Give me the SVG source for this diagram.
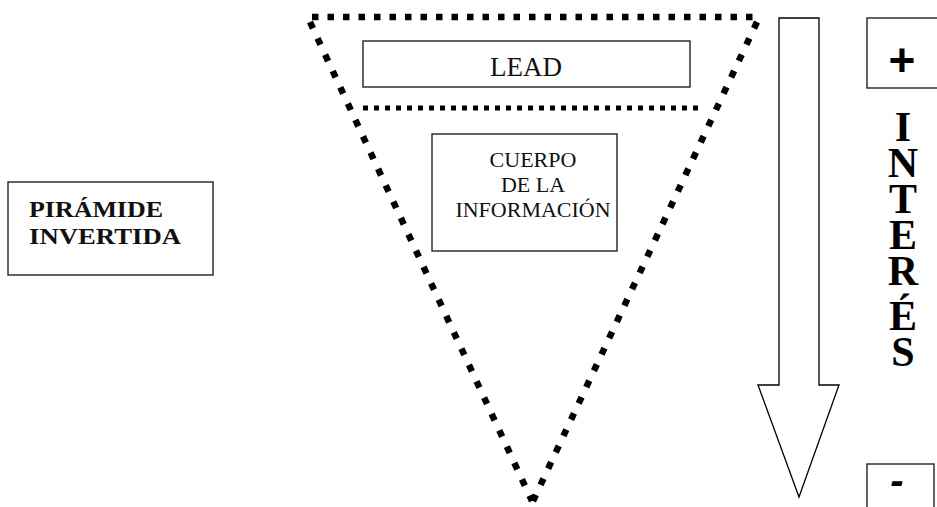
<svg xmlns="http://www.w3.org/2000/svg" width="937" height="507" viewBox="0 0 937 507">
<style>
.box{fill:#fff;stroke:#222;stroke-width:1.4}
.dot{fill:none;stroke:#000;stroke-width:6.5;stroke-dasharray:6.5 9}
.dots{fill:none;stroke:#000;stroke-width:6.5;stroke-dasharray:7 11}
.dot2{fill:none;stroke:#000;stroke-width:5;stroke-dasharray:5 6}
.serif{font-family:"Liberation Serif","Times New Roman",serif;fill:#111}
.vert{font-family:"Liberation Serif","Times New Roman",serif;font-weight:bold;font-size:42px;fill:#000;writing-mode:vertical-rl;text-orientation:upright;letter-spacing:-10px}
</style>
<rect width="937" height="507" fill="#fff"/>
<g id="piramide">
<line class="dot" x1="312" y1="17" x2="757" y2="17"/>
<line class="dots" x1="310" y1="22" x2="532" y2="501"/>
<line class="dots" x1="757" y1="22" x2="533" y2="501"/>
<line class="dot2" x1="363" y1="108" x2="702" y2="108"/>
</g>
<g id="lead">
<rect class="box" x="363" y="41" width="327" height="46"/>
<text class="serif" x="526" y="76" font-size="27" text-anchor="middle">LEAD</text>
</g>
<g id="cuerpo">
<rect class="box" x="432" y="134" width="185" height="117"/>
<text class="serif" font-size="22" text-anchor="middle"><tspan x="533" y="167">CUERPO</tspan><tspan x="533" y="192">DE LA</tspan><tspan x="533" y="217">INFORMACIÓN</tspan></text>
</g>
<g id="titulo">
<rect class="box" x="8" y="182" width="205" height="93"/>
<text class="serif" font-size="24" font-weight="bold"><tspan x="29" y="217" textLength="134" lengthAdjust="spacingAndGlyphs">PIRÁMIDE</tspan><tspan x="29" y="244" textLength="152" lengthAdjust="spacingAndGlyphs">INVERTIDA</tspan></text>
</g>
<g id="flecha">
<polygon points="779,18 819,18 819,385 839,385 799,497 758,385 779,385" fill="#fff" stroke="#000" stroke-width="1.3"/>
</g>
<g id="mas">
<rect class="box" x="867" y="18" width="75" height="70"/>
<text x="902" y="76" font-family="Liberation Sans, Arial, sans-serif" font-weight="bold" font-size="46" text-anchor="middle">+</text>
</g>
<g id="interes">
<text class="vert" x="903" y="104">INTE<tspan style="letter-spacing:-1px">R</tspan>ÉS</text>
</g>
<g id="menos">
<rect class="box" x="867" y="464" width="67" height="60"/>
<text x="897" y="494" font-family="Liberation Sans, Arial, sans-serif" font-weight="bold" font-style="italic" font-size="40" text-anchor="middle">-</text>
</g>
</svg>
